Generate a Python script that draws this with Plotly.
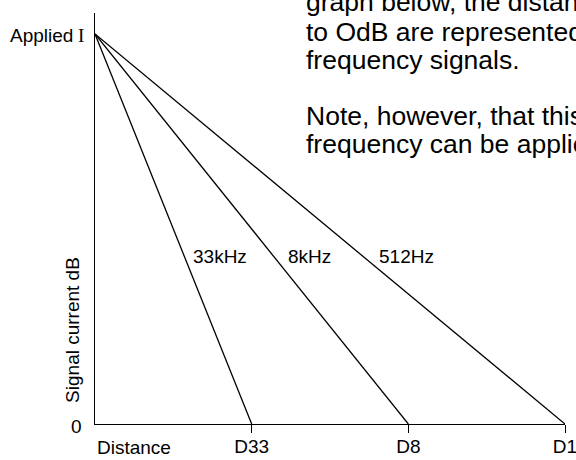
import plotly.graph_objects as go

# ---- data ----
tick_positions = [1, 2, 3]
tick_labels = ["D33", "D8", "D1"]
origin_label = "Distance"
freq_labels = ["33kHz", "8kHz", "512Hz"]
end_distance = [1, 2, 3]          # distance where each signal reaches 0 dB
start_level = 1.0                 # "Applied I"
end_level = 0.0
label_x = [0.80, 1.37, 1.99]
label_y = [0.43, 0.43, 0.43]
paragraph_lines = [
    "graph below, the distances at which the signals fall",
    "to OdB are represented by D33, D8 and D1 for the three",
    "frequency signals.",
    "Note, however, that this is an idealised graph and no one",
    "frequency can be applied to every situation.",
]
paragraph_y = [1.027, 0.9538, 0.8856, 0.7494, 0.6813]

FONT = "Liberation Sans, Arial, Helvetica, sans-serif"
SERIF = "Liberation Serif, Times New Roman, serif"
LW = 1.3

fig = go.Figure()
for lab, d in zip(freq_labels, end_distance):
    fig.add_trace(go.Scatter(x=[0, d], y=[start_level, end_level], mode="lines",
                             line=dict(color="black", width=LW), name=lab,
                             showlegend=False, hoverinfo="skip", cliponaxis=False))

ann = []
for lab, x, y in zip(freq_labels, label_x, label_y):
    ann.append(dict(x=x, y=y, xref="x", yref="y", text=lab, showarrow=False,
                    font=dict(size=19, color="black", family=FONT)))
ann.append(dict(x=0, y=-0.056, xref="paper", yref="paper", text=origin_label, showarrow=False,
                xanchor="left", yanchor="middle", font=dict(size=19, color="black", family=FONT)))
ann.append(dict(x=-0.0404, y=-0.005, xref="paper", yref="paper", text="0", showarrow=False,
                xanchor="center", yanchor="middle", font=dict(size=19, color="black", family=FONT)))
ann.append(dict(x=-0.0426, y=0.946, xref="paper", yref="paper", text="Applied",
                showarrow=False, xanchor="right", yanchor="middle",
                font=dict(size=19, color="black", family=FONT)))
ann.append(dict(x=-0.0191, y=0.946, xref="paper", yref="paper", text="I",
                showarrow=False, xanchor="right", yanchor="middle",
                font=dict(size=19, color="black", family=SERIF)))
ann.append(dict(x=-0.0468, y=0.229, xref="paper", yref="paper", text="Signal current dB",
                textangle=-90, showarrow=False, xanchor="center", yanchor="middle",
                font=dict(size=19, color="black", family=FONT)))
for t, y in zip(paragraph_lines, paragraph_y):
    ann.append(dict(x=0.4447, y=y, xref="paper", yref="paper", text=t, showarrow=False,
                    xanchor="left", yanchor="middle",
                    font=dict(size=26.5, color="black", family=FONT)))

fig.update_layout(
    width=576, height=460,
    margin=dict(l=95, r=11, t=13, b=36, pad=0, autoexpand=False),
    paper_bgcolor="white", plot_bgcolor="white",
    annotations=ann,
    xaxis=dict(range=[0, 3], showgrid=False, zeroline=False, showline=True, automargin=False,
               linecolor="black", linewidth=LW, tickvals=tick_positions, ticktext=tick_labels,
               ticks="outside", ticklen=8, tickwidth=LW, tickcolor="black",
               ticklabeloverflow="allow", ticklabelstandoff=-3,
               tickfont=dict(size=19, color="black", family=FONT), fixedrange=True),
    yaxis=dict(range=[0, 1.0538], showgrid=False, zeroline=False, showline=True, automargin=False,
               linecolor="black", linewidth=LW, showticklabels=False, ticks="",
               fixedrange=True),
)

fig.write_html("out.html", config={"displayModeBar": False},
               post_script="document.body.style.margin='0';")
